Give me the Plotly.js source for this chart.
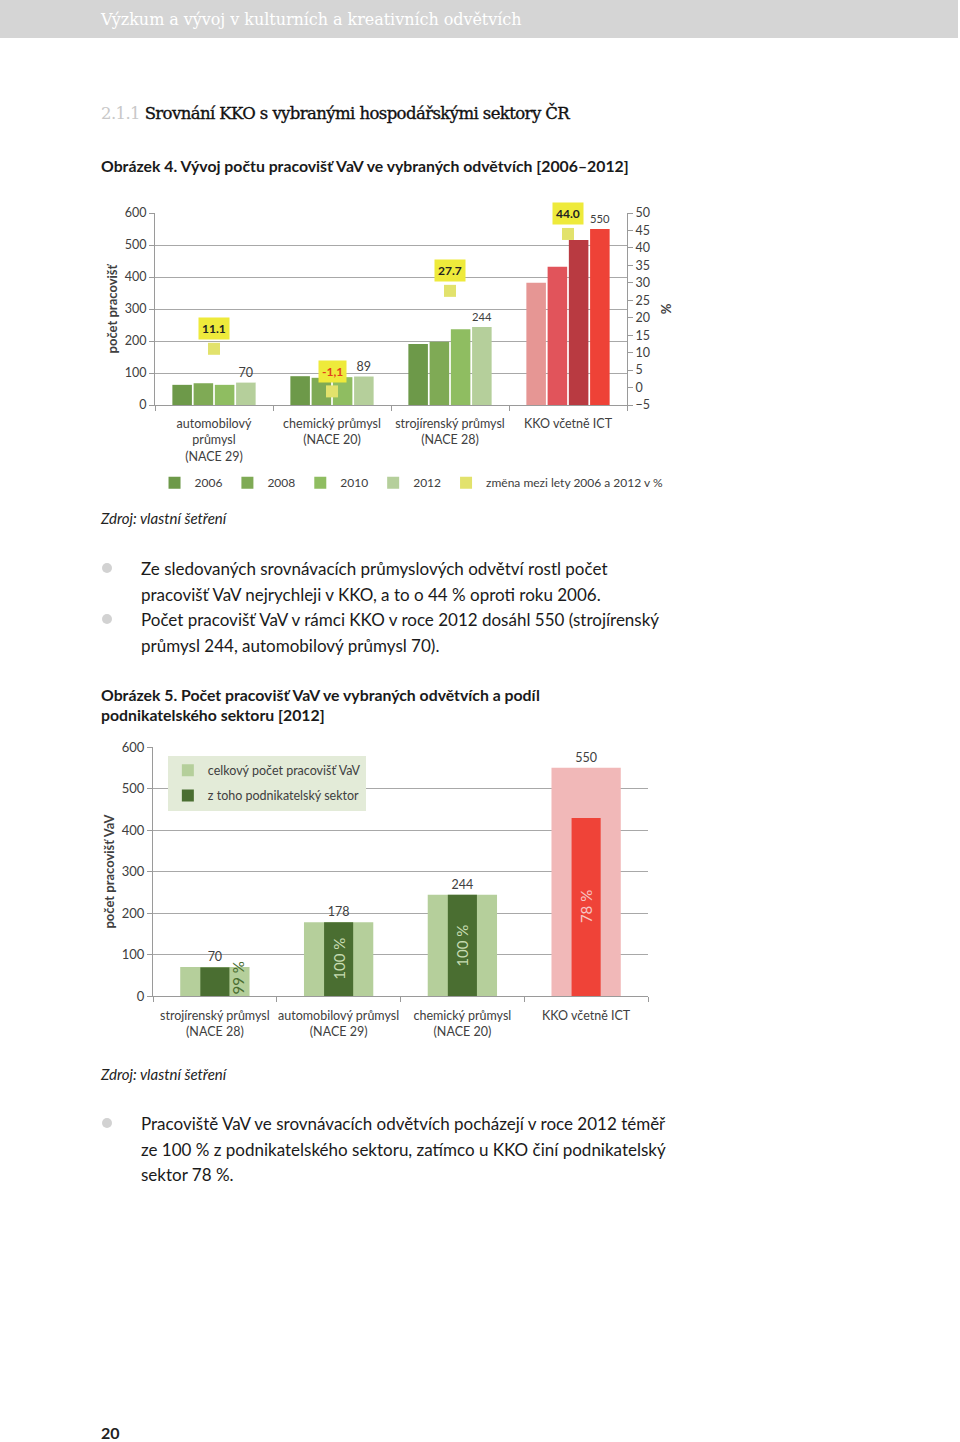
<!DOCTYPE html>
<html><head><meta charset="utf-8">
<script src="https://cdn.plot.ly/plotly-3.0.1.min.js"></script>
<style>
html,body{margin:0;padding:0;}
body{width:960px;height:1442px;position:relative;background:#fff;font-family:Lato,"Noto Sans",sans-serif;color:#222;overflow:hidden;}
.abs{position:absolute;white-space:nowrap;}
.hdr{left:0;top:0;width:958px;height:38px;background:#d5d5d5;}
.hdrtxt{left:101px;top:8px;font-family:"DejaVu Serif",serif;font-size:16px;color:#fff;letter-spacing:-0.05px;line-height:24px;}
.sec{left:101px;top:102px;font-family:"DejaVu Serif",serif;font-size:16.5px;color:#111;letter-spacing:-0.6px;line-height:24px;-webkit-text-stroke:0.35px #111;}
.sec span{color:#c8c8c8;-webkit-text-stroke:0;}
.fig{left:101px;font-weight:bold;font-size:15.8px;line-height:20px;color:#1a1a1a;}
.src{left:101px;font-style:italic;font-size:15px;line-height:20px;color:#222;}
.body{left:141px;font-size:17px;line-height:25.5px;color:#1a1a1a;}
.dot{width:10px;height:10px;border-radius:50%;background:#d2d2d2;left:102px;}
.pg{left:101px;top:1423px;font-weight:bold;font-size:16px;line-height:20px;color:#222;}
#chart1{position:absolute;left:0;top:190px;width:960px;height:320px;}
#chart2{position:absolute;left:0;top:720px;width:960px;height:330px;}
</style></head>
<body>
<div class="abs hdr"></div>
<div class="abs hdrtxt">Výzkum a vývoj v kulturních a kreativních odvětvích</div>
<div class="abs sec"><span>2.1.1</span> Srovnání KKO s vybranými hospodářskými sektory ČR</div>
<div class="abs fig" style="top:156px;">Obrázek 4. Vývoj počtu pracovišť VaV ve vybraných odvětvích [2006–2012]</div>
<div id="chart1"></div>
<div class="abs src" style="top:508px;">Zdroj: vlastní šetření</div>
<div class="abs dot" style="top:563px;"></div>
<div class="abs dot" style="top:614px;"></div>
<div class="abs body" style="top:556px;">Ze sledovaných srovnávacích průmyslových odvětví rostl počet<br>pracovišť VaV nejrychleji v KKO, a to o 44 % oproti roku 2006.<br>Počet pracovišť VaV v rámci KKO v roce 2012 dosáhl 550 (strojírenský<br>průmysl 244, automobilový průmysl 70).</div>
<div class="abs fig" style="top:685px;">Obrázek 5. Počet pracovišť VaV ve vybraných odvětvích a podíl<br>podnikatelského sektoru [2012]</div>
<div id="chart2"></div>
<div class="abs src" style="top:1064px;">Zdroj: vlastní šetření</div>
<div class="abs dot" style="top:1118px;"></div>
<div class="abs body" style="top:1111px;">Pracoviště VaV ve srovnávacích odvětvích pocházejí v roce 2012 téměř<br>ze 100 % z podnikatelského sektoru, zatímco u KKO činí podnikatelský<br>sektor 78 %.</div>
<div class="abs pg">20</div>
<script>
// ---------- Chart 1 data ----------
const categories1 = ['automobilový<br>průmysl<br>(NACE 29)', 'chemický průmysl<br>(NACE 20)', 'strojírenský průmysl<br>(NACE 28)', 'KKO včetně ICT'];
const years = ['2006', '2008', '2010', '2012'];
const v2006 = [63, 90, 191, 382];
const v2008 = [68, 85, 198, 432];
const v2010 = [63, 87, 237, 516];
const v2012 = [70, 89, 244, 550];
const change = [11.1, -1.1, 27.7, 44.0];
const changeLabels = ['11.1', '-1,1', '27.7', '44.0'];
const changeName = 'změna mezi lety 2006 a 2012 v %';

// ---------- Chart 2 data ----------
const categories2 = ['strojírenský průmysl<br>(NACE 28)', 'automobilový průmysl<br>(NACE 29)', 'chemický průmysl<br>(NACE 20)', 'KKO včetně ICT'];
const total2 = [70, 178, 244, 550];
const business2 = [69, 178, 244, 429];
const shareLabels = ['99 %', '100 %', '100 %', '78 %'];
const totalName = 'celkový počet pracovišť VaV';
const businessName = 'z toho podnikatelský sektor';

// ---------- styles ----------
const greens = ['#6d9949', '#7faa55', '#8fbd61', '#b5cf9b'];
const reds = ['#e69694', '#e1545b', '#b93a41', '#ee4237'];
const FONT = 'Lato, "Noto Sans", sans-serif';
const TXT = '#404040';
const GRID = '#a8a8a8';
const isKKO = c => c.indexOf('KKO') === 0;

// ---------- Chart 1 ----------
const series = [v2006, v2008, v2010, v2012];
const traces1 = series.map((vals, i) => {
  const t = {
    type: 'bar', name: years[i], x: categories1, y: vals,
    marker: {color: categories1.map(c => isKKO(c) ? reds[i] : greens[i])},
    hoverinfo: 'none', cliponaxis: false
  };
  if (i === series.length - 1) {
    t.text = vals.map(String);
    t.textposition = 'outside';
    t.textfont = {size: 12.5, color: TXT, family: FONT};
  }
  return t;
});
traces1.push({
  type: 'scatter', mode: 'markers', name: changeName, x: categories1, y: change, yaxis: 'y2',
  marker: {symbol: 'square', size: 12, color: '#e2e26c', line: {width: 0}}, hoverinfo: 'none', cliponaxis: false
});

const ann1 = change.map((v, i) => ({
  x: categories1[i], y: v, xref: 'x', yref: 'y2', yshift: 20,
  text: '<b>' + changeLabels[i] + '</b>', showarrow: false,
  bgcolor: '#eeea3b', borderpad: 3,
  font: {family: FONT, size: 12, color: v < 0 ? '#e2411c' : '#222'}
}));

const layout1 = {
  width: 960, height: 320,
  margin: {l: 155, r: 333, t: 23, b: 105},
  paper_bgcolor: 'rgba(0,0,0,0)', plot_bgcolor: 'rgba(0,0,0,0)',
  font: {family: FONT, size: 12, color: TXT},
  barmode: 'group', bargap: 0.28, bargroupgap: 0.08,
  showlegend: true,
  legend: {orientation: 'h', x: -0.001, xanchor: 'left', y: -0.405, yanchor: 'middle',
           font: {size: 12, color: TXT}, itemwidth: 30, traceorder: 'normal'},
  xaxis: {showline: true, linecolor: '#9a9a9a', ticks: 'outside', tickson: 'boundaries', tickangle: 0,
          ticklen: 5, tickcolor: '#9a9a9a', tickfont: {size: 12.5, color: TXT}, automargin: false,
          ticklabelstandoff: 7},
  yaxis: {range: [0, 600], dtick: 100, gridcolor: GRID, zeroline: false, showline: true,
          linecolor: '#9a9a9a', ticks: 'outside', ticklen: 5, tickcolor: '#9a9a9a',
          tickfont: {size: 12.5, color: TXT}, automargin: false,
          title: {text: '<b>počet pracovišť</b>', font: {size: 13, color: TXT}, standoff: 4}},
  yaxis2: {overlaying: 'y', side: 'right', range: [-5, 50], dtick: 5, showgrid: false, zeroline: false,
           showline: true, linecolor: '#9a9a9a', ticks: 'outside', ticklen: 5, tickcolor: '#9a9a9a',
           tickfont: {size: 12.5, color: TXT}, automargin: false,
           title: {text: '<b>%</b>', font: {size: 13, color: TXT}, standoff: 12}},
  annotations: ann1
};
Plotly.newPlot('chart1', traces1, layout1, {displayModeBar: false, staticPlot: true});

// ---------- Chart 2 ----------
const lightColors = categories2.map(c => isKKO(c) ? '#f1b8b8' : '#b5cf9b');
const darkColors = categories2.map(c => isKKO(c) ? '#ef4338' : '#4a6e31');
const traces2 = [
  {type: 'bar', name: totalName, x: categories2, y: total2, width: 0.56,
   marker: {color: lightColors}, text: total2.map(String), textposition: 'outside',
   textfont: {size: 12.5, color: TXT, family: FONT}, cliponaxis: false, hoverinfo: 'none',
   legendgroup: 'a'},
  {type: 'bar', name: businessName, x: categories2, y: business2, width: 0.235,
   marker: {color: darkColors}, hoverinfo: 'none', legendgroup: 'b'}
];
const ann2 = business2.map((v, i) => {
  const small = v < 100;
  return {
    x: categories2[i], y: v / 2, xref: 'x', yref: 'y', showarrow: false, textangle: -90,
    xshift: small ? 23 : 0, yshift: small ? 4 : 0,
    text: shareLabels[i],
    font: {family: FONT, size: 15, color: small ? '#4a6e31' : (isKKO(categories2[i]) ? '#f6c4c4' : '#c7dcb2')}
  };
});
const layout2 = {
  width: 960, height: 330,
  margin: {l: 153, r: 312, t: 27, b: 54},
  paper_bgcolor: 'rgba(0,0,0,0)', plot_bgcolor: 'rgba(0,0,0,0)',
  font: {family: FONT, size: 12, color: TXT},
  barmode: 'overlay',
  showlegend: true,
  legend: {x: 0.03, xanchor: 'left', y: 0.965, yanchor: 'top', bgcolor: '#e3ebd8',
           font: {size: 12.5, color: TXT}, traceorder: 'grouped', tracegroupgap: 6, itemwidth: 30},
  xaxis: {showline: true, linecolor: '#9a9a9a', ticks: 'outside', tickson: 'boundaries', tickangle: 0,
          ticklen: 5, tickcolor: '#9a9a9a', tickfont: {size: 12.5, color: TXT}, automargin: false,
          ticklabelstandoff: 8},
  yaxis: {range: [0, 600], dtick: 100, gridcolor: GRID, zeroline: false, showline: true,
          linecolor: '#9a9a9a', ticks: 'outside', ticklen: 5, tickcolor: '#9a9a9a',
          tickfont: {size: 13, color: TXT}, automargin: false,
          title: {text: '<b>počet pracovišť VaV</b>', font: {size: 13, color: TXT}, standoff: 4}},
  annotations: ann2
};
Plotly.newPlot('chart2', traces2, layout2, {displayModeBar: false, staticPlot: true});
</script>
</body></html>
